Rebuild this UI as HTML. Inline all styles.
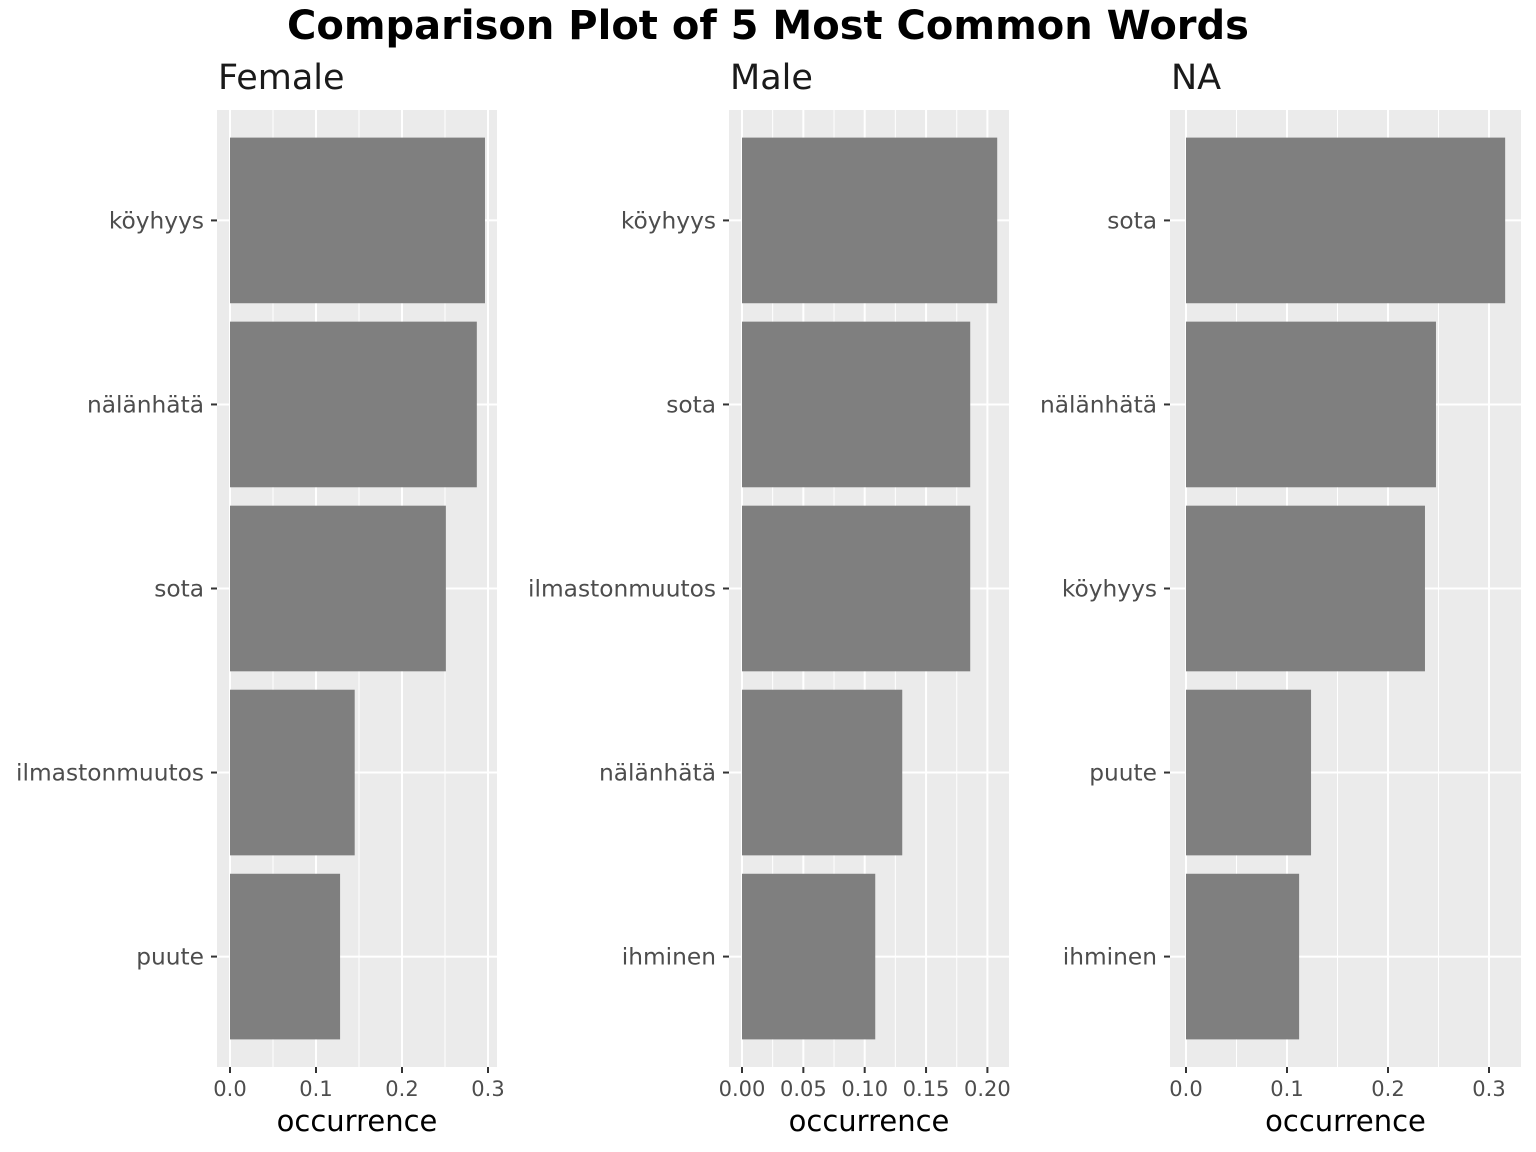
<!DOCTYPE html>
<html><head><meta charset="utf-8"><style>
html,body{margin:0;padding:0;background:#fff;}
svg{display:block;font-family:"DejaVu Sans","Liberation Sans",sans-serif;}
</style></head><body>
<svg id="chart" width="1536" height="1152" viewBox="0 0 1536 1152">
<text x="768" y="39" text-anchor="middle" font-size="40" font-weight="bold" fill="#000">Comparison Plot of 5 Most Common Words</text>
</svg>
<script>
const panelNames = ["Female", "Male", "NA"];
const femaleWords = ["köyhyys", "nälänhätä", "sota", "ilmastonmuutos", "puute"];
const femaleValues = [0.2965, 0.287, 0.251, 0.145, 0.128];
const maleWords = ["köyhyys", "sota", "ilmastonmuutos", "nälänhätä", "ihminen"];
const maleValues = [0.208, 0.186, 0.186, 0.1306, 0.1086];
const naWords = ["sota", "nälänhätä", "köyhyys", "puute", "ihminen"];
const naValues = [0.316, 0.2475, 0.2366, 0.1238, 0.112];
const femaleTicks = [0, 0.1, 0.2, 0.3];
const femaleTickLabels = ["0.0", "0.1", "0.2", "0.3"];
const maleTicks = [0, 0.05, 0.1, 0.15, 0.2];
const maleTickLabels = ["0.00", "0.05", "0.10", "0.15", "0.20"];
const naTicks = [0, 0.1, 0.2, 0.3];
const naTickLabels = ["0.0", "0.1", "0.2", "0.3"];

const NS = "http://www.w3.org/2000/svg";
const svg = document.getElementById("chart");
function mk(tag, attrs, parent) {
  const e = document.createElementNS(NS, tag);
  for (const k in attrs) e.setAttribute(k, attrs[k]);
  (parent || svg).appendChild(e);
  return e;
}
const top0 = 110, bot0 = 1067;
const layout = [
  {left: 217, right: 497, x0: 230, scale: 860},
  {left: 729, right: 1009, x0: 742, scale: 1227},
  {left: 1170, right: 1521, x0: 1186, scale: 1010}
];
const words = [femaleWords, maleWords, naWords];
const vals = [femaleValues, maleValues, naValues];
const ticks = [femaleTicks, maleTicks, naTicks];
const tickLabels = [femaleTickLabels, maleTickLabels, naTickLabels];
const n = 5;
const step = (bot0 - top0) / (n + 0.2);
function yPos(i) { return top0 + step * 0.6 + i * step; }

panelNames.forEach((pn, p) => {
  const L = layout[p];
  const xs = v => L.x0 + v * L.scale;
  const g = mk("g", {});
  
  
  const bg = mk("rect", {x: L.left, y: top0, width: L.right - L.left, height: bot0 - top0, fill: "#ebebeb"}, g);
  
  
  const t = ticks[p];
  const d = t[1] - t[0];
  for (let k = 0; k < t.length + 1; k++) {
    const v = t[0] + d * (k + 0.5);
    const x = xs(v);
    if (x < L.right) {
      const ml = mk("line", {x1: x, x2: x, y1: top0, y2: bot0, stroke: "#fff", "stroke-width": 1}, g);
      
      
    }
  }
  t.forEach((v, k) => {
    const x = xs(v);
    const gl = mk("line", {x1: x, x2: x, y1: top0, y2: bot0, stroke: "#fff", "stroke-width": 2}, g);
    
    
    const tk = mk("line", {x1: x, x2: x, y1: bot0, y2: bot0 + 6, stroke: "#333", "stroke-width": 2}, g);
    
    
    const tl = mk("text", {x: x, y: bot0 + 29, "text-anchor": "middle", "font-size": 21, fill: "#4d4d4d"}, g);
    tl.textContent = tickLabels[p][k];
    
    
  });
  words[p].forEach((w, i) => {
    const y = yPos(i);
    const hl = mk("line", {x1: L.left, x2: L.right, y1: y, y2: y, stroke: "#fff", "stroke-width": 2}, g);
    
    
  });
  words[p].forEach((w, i) => {
    const y = yPos(i);
    const bh = step * 0.9;
    const b = mk("rect", {x: xs(0), y: y - bh / 2, width: xs(vals[p][i]) - xs(0), height: bh, fill: "#7f7f7f"}, g);
    
    
    const tk = mk("line", {x1: L.left - 6, x2: L.left, y1: y, y2: y, stroke: "#333", "stroke-width": 2}, g);
    
    
    const tl = mk("text", {x: L.left - 13, y: y + 8, "text-anchor": "end", "font-size": 23.3, fill: "#4d4d4d"}, g);
    tl.textContent = w;
    
    
  });
  const st = mk("text", {x: L.left + 1, y: 89, "font-size": 35, fill: "#1a1a1a"}, g);
  st.textContent = pn;
  
  
  const at = mk("text", {x: (L.left + L.right) / 2, y: 1131, "text-anchor": "middle", "font-size": 29, fill: "#000"}, g);
  at.textContent = "occurrence";
  
  
});
</script>
</body></html>
